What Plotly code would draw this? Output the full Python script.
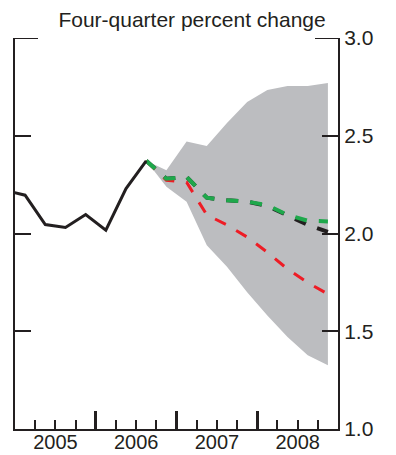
import plotly.graph_objects as go

# Quarterly positions are plotted at mid-quarter: year + (q - 0.5) / 4
def qpos(year, q):
    return year + (q - 0.5) / 4

# Historical four-quarter percent change, 2004Q4 - 2006Q3
hist_quarters = [(2004, 4), (2005, 1), (2005, 2), (2005, 3), (2005, 4),
                 (2006, 1), (2006, 2), (2006, 3)]
hist_values = [2.22, 2.196, 2.046, 2.031, 2.097, 2.017, 2.23, 2.372]

# Projection period, 2006Q3 - 2008Q4
proj_quarters = [(2006, 3), (2006, 4), (2007, 1), (2007, 2), (2007, 3),
                 (2007, 4), (2008, 1), (2008, 2), (2008, 3), (2008, 4)]
band_upper = [2.372, 2.324, 2.47, 2.447, 2.565, 2.672, 2.734, 2.755, 2.755, 2.77]
band_lower = [2.372, 2.239, 2.162, 1.94, 1.83, 1.70, 1.58, 1.47, 1.377, 1.326]
proj_black = [2.372, 2.28, 2.29, 2.183, 2.17, 2.163, 2.14, 2.09, 2.045, 2.008]
proj_red = [2.372, 2.272, 2.262, 2.095, 2.044, 1.982, 1.904, 1.818, 1.749, 1.69]
proj_green = [2.372, 2.28, 2.29, 2.183, 2.17, 2.163, 2.145, 2.095, 2.065, 2.062]

year_labels = ["2005", "2006", "2007", "2008"]
y_ticks = [1.0, 1.5, 2.0, 2.5, 3.0]

hx = [qpos(y, q) for y, q in hist_quarters]
px = [qpos(y, q) for y, q in proj_quarters]

INK = "#231f20"
GRAY = "#bcbdc0"
RED = "#ee1c25"
GREEN = "#1ea84b"
FONT = "Liberation Sans, Arial, Helvetica, sans-serif"
FS = 21

fig = go.Figure()

# Uncertainty band
fig.add_trace(go.Scatter(x=px, y=band_upper, mode="lines", line=dict(width=0),
                         hoverinfo="skip", showlegend=False))
fig.add_trace(go.Scatter(x=px, y=band_lower, mode="lines", line=dict(width=0),
                         fill="tonexty", fillcolor=GRAY, hoverinfo="skip",
                         showlegend=False))

# Projection paths
fig.add_trace(go.Scatter(x=px, y=proj_black, mode="lines",
                         line=dict(color=INK, width=4, dash="12px,12px"),
                         showlegend=False))
fig.add_trace(go.Scatter(x=px, y=proj_red, mode="lines",
                         line=dict(color=RED, width=3, dash="12px,12px"),
                         showlegend=False))
fig.add_trace(go.Scatter(x=px, y=proj_green, mode="lines",
                         line=dict(color=GREEN, width=4, dash="12px,12px"),
                         showlegend=False))

# History
fig.add_trace(go.Scatter(x=hx, y=hist_values, mode="lines",
                         line=dict(color=INK, width=3), showlegend=False))

# Invisible traces that anchor the tick-mark axes
for ax in ("x2", "x3"):
    fig.add_trace(go.Scatter(x=[2005, 2009], y=[1, 1], xaxis=ax, mode="lines",
                             line=dict(width=0), hoverinfo="skip",
                             showlegend=False))

year_bounds = [2005, 2006, 2007, 2008, 2009]
quarter_bounds = [y + k / 4 for y in range(2005, 2009) for k in (1, 2, 3)]

tick_axis = dict(range=[2005, 2009], overlaying="x", side="bottom",
                 showgrid=False, zeroline=False, showline=False,
                 automargin=False, tickmode="array", showticklabels=False,
                 ticks="inside", tickcolor=INK)

fig.update_layout(
    width=396, height=455,
    margin=dict(l=15, r=58, t=38, b=26),
    paper_bgcolor="white", plot_bgcolor="white",
    font=dict(family=FONT, size=FS, color=INK),
    title=dict(text="Four-quarter percent change", x=0.485, xanchor="center",
               y=1 - 20 / 455, yanchor="middle",
               font=dict(family=FONT, size=FS, color=INK)),
    xaxis=dict(range=[2005, 2009], showgrid=False, zeroline=False,
               showline=True, linewidth=2, linecolor=INK, automargin=False,
               tickmode="array", tickvals=[y + 0.5 for y in range(2005, 2009)],
               ticktext=year_labels, ticks="", ticklabelstandoff=-6,
               tickfont=dict(family=FONT, size=20, color=INK)),
    xaxis2=dict(tick_axis, tickvals=year_bounds, ticklen=18, tickwidth=2.5),
    xaxis3=dict(tick_axis, tickvals=quarter_bounds, ticklen=9, tickwidth=2),
    yaxis=dict(range=[1.0, 3.0], side="right", showgrid=False, zeroline=False,
               showline=True, linewidth=2, linecolor=INK, mirror="ticks",
               automargin=False, tickmode="array", tickvals=y_ticks,
               ticktext=[f"{v:.1f}" for v in y_ticks],
               ticks="inside", ticklen=16, tickwidth=2, tickcolor=INK,
               tickfont=dict(family=FONT, size=FS, color=INK)),
)

# Longer frame ticks at the top of the panel
for x0, x1 in ((0, 23 / 323), (1 - 23 / 323, 1)):
    fig.add_shape(type="line", xref="x domain", yref="y", x0=x0, x1=x1,
                  y0=3.0, y1=3.0, line=dict(color=INK, width=2))

fig.write_html("out.html")
